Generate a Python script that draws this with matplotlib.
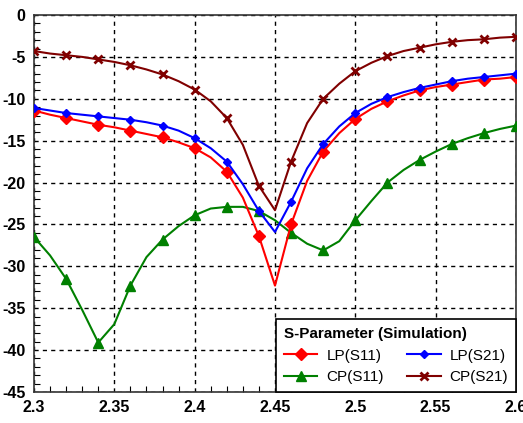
import numpy as np
import matplotlib
matplotlib.use("Agg")
import matplotlib.pyplot as plt
from matplotlib.ticker import MultipleLocator

plt.rcParams.update({
    "font.family": ["Liberation Sans", "DejaVu Sans"],
    "font.size": 11.5,
    "axes.unicode_minus": False,
})

# frequency sweep (GHz), simulated every 10 MHz
freq = np.round(np.arange(2.30, 2.6001, 0.01), 2)

lp_s11 = [-11.4, -11.9, -12.3, -12.7, -13.1, -13.4, -13.8, -14.2, -14.6, -15.2,
          -15.9, -17.0, -18.7, -21.8, -26.4, -32.3, -25.0, -19.8, -16.3, -14.1,
          -12.4, -11.2, -10.3, -9.6, -9.0, -8.6, -8.3, -8.0, -7.7, -7.6, -7.4]
lp_s21 = [-11.1, -11.4, -11.7, -11.9, -12.1, -12.3, -12.5, -12.8, -13.2, -13.8,
          -14.7, -15.9, -17.5, -20.2, -23.4, -25.9, -22.3, -18.3, -15.4, -13.3,
          -11.7, -10.6, -9.8, -9.2, -8.7, -8.3, -7.9, -7.6, -7.4, -7.2, -7.0]
cp_s11 = [-26.5, -28.7, -31.5, -35.2, -39.1, -36.9, -32.3, -28.9, -26.8, -25.2,
          -23.9, -23.1, -22.9, -22.9, -23.4, -24.5, -26.0, -27.3, -28.1, -27.0,
          -24.5, -22.2, -20.0, -18.5, -17.3, -16.3, -15.4, -14.7, -14.1, -13.6, -13.2]
cp_s21 = [-4.3, -4.6, -4.8, -5.0, -5.3, -5.6, -6.0, -6.5, -7.1, -7.9,
          -8.9, -10.3, -12.3, -15.5, -20.4, -23.3, -17.5, -12.9, -10.0, -8.2,
          -6.7, -5.7, -4.9, -4.3, -3.9, -3.5, -3.2, -3.0, -2.9, -2.7, -2.6]

x_ticks = [2.3, 2.35, 2.4, 2.45, 2.5, 2.55, 2.6]
x_labels = ["2.3", "2.35", "2.4", "2.45", "2.5", "2.55", "2.6"]

fig = plt.figure(figsize=(5.23, 4.23), dpi=100)
ax = fig.add_axes([0.065, 0.0733, 0.9216, 0.8912])

ax.plot(freq, lp_s11, color="#ff0000", lw=1.5, marker="D", ms=6,
        markevery=2, label="LP(S11)", zorder=4)
ax.plot(freq, cp_s11, color="#008000", lw=1.5, marker="^", ms=7,
        markevery=2, label="CP(S11)", zorder=3)
ax.plot(freq, lp_s21, color="#0000ff", lw=1.5, marker="D", ms=4.5,
        markevery=2, label="LP(S21)", zorder=5)
ax.plot(freq, cp_s21, color="#800000", lw=1.5, marker="x", ms=6, mew=2,
        markevery=2, label="CP(S21)", zorder=6)

ax.set_xlim(2.3, 2.6)
ax.set_ylim(-45, 0)
ax.set_xticks(x_ticks)
ax.set_xticklabels(x_labels, fontweight="bold")
ax.yaxis.set_major_locator(MultipleLocator(5))
ax.xaxis.set_minor_locator(MultipleLocator(0.01))
ax.yaxis.set_minor_locator(MultipleLocator(1))
for lab in ax.get_yticklabels():
    lab.set_fontweight("bold")
ax.tick_params(which="both", direction="in", top=False, right=False)
ax.tick_params(which="major", length=0, pad=6)
ax.tick_params(which="minor", length=4, width=0.8)

ax.grid(True, which="major", color="black", linestyle=(0, (3, 3)), linewidth=1.0)
for s in ax.spines.values():
    s.set_color("#333333")
    s.set_linewidth(1.2)

# legend in two columns, row-major order
leg = ax.legend(ncol=2, loc="lower right", title="S-Parameter (Simulation)",
                fontsize=11, title_fontproperties={"weight": "bold", "size": 11},
                fancybox=False, edgecolor="black", framealpha=1,
                borderaxespad=0, handlelength=2.2, columnspacing=1.5,
                labelspacing=0.5, borderpad=0.5, handletextpad=0.6)
leg._legend_box.align = "left"
leg.get_frame().set_linewidth(1.2)

fig.savefig("out.png", dpi=100, facecolor="white")
